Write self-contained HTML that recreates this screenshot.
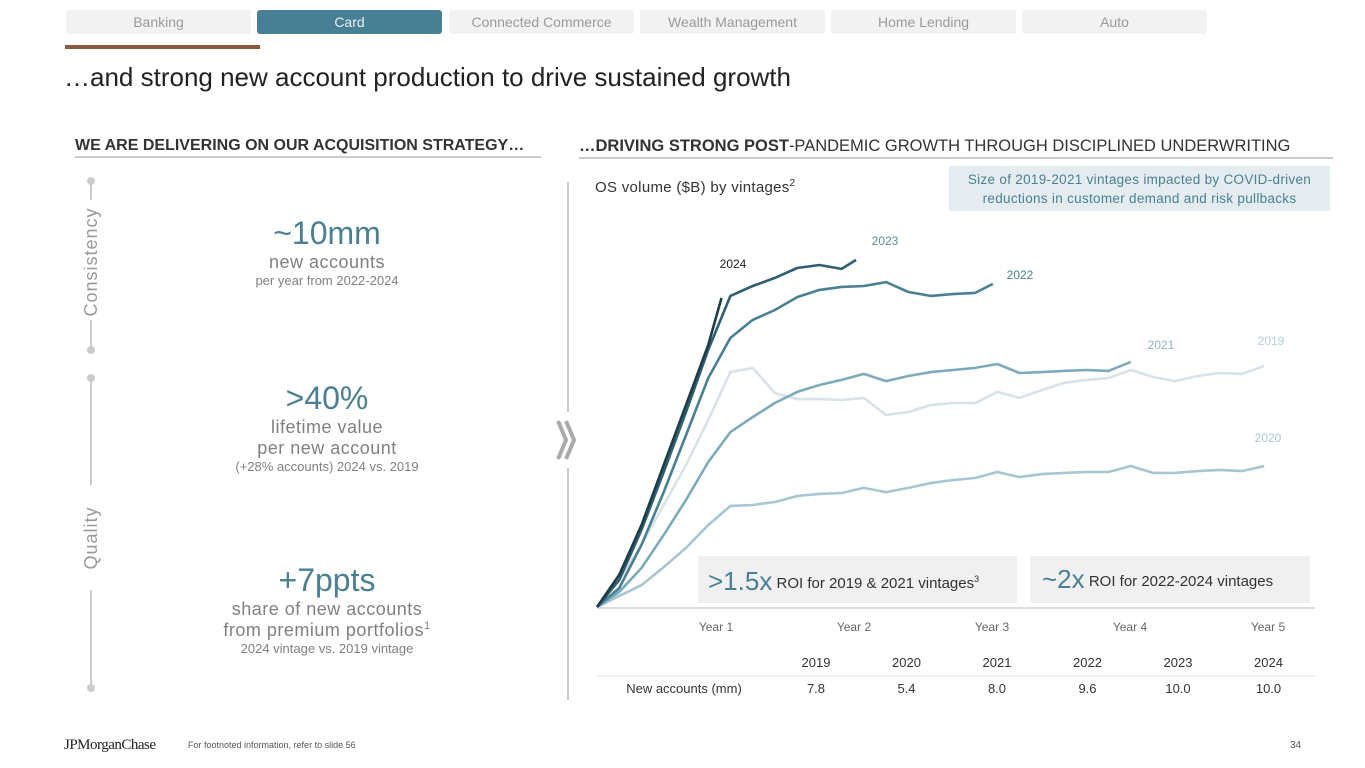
<!DOCTYPE html>
<html><head><meta charset="utf-8"><style>
body{margin:0;width:1365px;height:768px;background:#fff;font-family:"Liberation Sans",sans-serif;position:relative;overflow:hidden;color:#333}
.a{position:absolute}
.tab{position:absolute;top:10px;height:24px;width:185px;background:#f2f2f2;border-radius:3px;color:#9a9a9a;font-size:14px;text-align:center;line-height:24px}
.c{text-align:center;color:#777}
.big{color:#4a7f94;font-size:32px}
.mid{color:#808080;font-size:18px;letter-spacing:.5px}
.sm{color:#808080;font-size:13px}
</style></head><body>
<div class="tab" style="left:66px">Banking</div>
<div class="tab" style="left:257px;background:#477f94;color:#e8f0f3">Card</div>
<div class="tab" style="left:449px">Connected Commerce</div>
<div class="tab" style="left:640px">Wealth Management</div>
<div class="tab" style="left:831px">Home Lending</div>
<div class="tab" style="left:1022px">Auto</div>
<div class="a" style="left:65px;top:45px;width:195px;height:4px;background:#8c5a40"></div>
<div class="a" style="left:64px;top:62px;font-size:26px;color:#222">…and strong new account production to drive sustained growth</div>
<div class="a" style="left:75px;top:137px;font-size:16px;font-weight:bold;color:#333;width:466px;border-bottom:2px solid #ccc;padding-bottom:1px;white-space:nowrap">WE ARE DELIVERING ON OUR ACQUISITION STRATEGY…</div>
<div class="a" style="left:579px;top:137px;font-size:16.5px;color:#333;width:754px;border-bottom:2px solid #ccc;padding-bottom:1px;white-space:nowrap"><b>…DRIVING STRONG POST</b>-PANDEMIC GROWTH THROUGH DISCIPLINED UNDERWRITING</div>

<svg class="a" style="left:0;top:0" width="1365" height="768">
<line x1="91" y1="181" x2="91" y2="350" stroke="#ccc" stroke-width="2"/>
<line x1="91" y1="378" x2="91" y2="688" stroke="#ccc" stroke-width="2"/>
<rect x="84" y="200" width="16" height="120" fill="#fff"/>
<rect x="84" y="485" width="16" height="105" fill="#fff"/>
<circle cx="91" cy="181" r="4" fill="#ccc"/><circle cx="91" cy="350" r="4" fill="#ccc"/>
<circle cx="91" cy="378" r="4" fill="#ccc"/><circle cx="91" cy="688" r="4" fill="#ccc"/>
<text transform="translate(97,262) rotate(-90)" text-anchor="middle" font-size="18" fill="#999" letter-spacing="1">Consistency</text>
<text transform="translate(97,538) rotate(-90)" text-anchor="middle" font-size="18" fill="#999" letter-spacing="1">Quality</text>
<line x1="568" y1="182" x2="568" y2="700" stroke="#ccc" stroke-width="2"/>
<rect x="556" y="412" width="24" height="56" fill="#fff"/>
<path d="M558 421 L566 440 L558 459 M566 421 L574 440 L566 459" stroke="#aaa" stroke-width="4" fill="none"/>
</svg>
<div class="a c" style="left:177px;width:300px;top:215px"><div class="big">~10mm</div><div class="mid">new accounts</div><div class="sm">per year from 2022-2024</div></div>
<div class="a c" style="left:177px;width:300px;top:380px"><div class="big">&gt;40%</div><div class="mid">lifetime value<br>per new account</div><div class="sm">(+28% accounts) 2024 vs. 2019</div></div>
<div class="a c" style="left:177px;width:300px;top:562px"><div class="big">+7ppts</div><div class="mid">share of new accounts<br>from premium portfolios<sup style="font-size:11px">1</sup></div><div class="sm">2024 vintage vs. 2019 vintage</div></div>

<div class="a" style="left:595px;top:178px;font-size:15px;color:#333;letter-spacing:.3px">OS volume ($B) by vintages<sup style="font-size:10px">2</sup></div>
<div class="a" style="left:949px;top:166px;width:381px;height:45px;background:#e4ecf0;color:#4a7f94;font-size:13.5px;text-align:center;line-height:19px;padding-top:4px;box-sizing:border-box;letter-spacing:.3px">Size of 2019-2021 vintages impacted by COVID-driven<br>reductions in customer demand and risk pullbacks</div>

<svg id="chart" class="a" style="left:0;top:0" width="1365" height="768"></svg>

<div class="a" style="left:698px;top:556px;width:319px;height:47px;background:#f0f0f0;line-height:47px;font-size:15px;color:#333;white-space:nowrap;padding-left:10px;box-sizing:border-box"><span style="font-size:26px;color:#4a7f94;vertical-align:-2px">&gt;1.5x</span> ROI for 2019 &amp; 2021 vintages<sup style="font-size:9px">3</sup></div>
<div class="a" style="left:1030px;top:556px;width:280px;height:47px;background:#f0f0f0;line-height:47px;font-size:15px;color:#333;white-space:nowrap;padding-left:12px;box-sizing:border-box"><span style="font-size:26px;color:#4a7f94;vertical-align:-2px">~2x</span> ROI for 2022-2024 vintages</div>

<div class="a" style="left:64px;top:737px;font-family:'Liberation Serif',serif;font-size:15px;color:#222;letter-spacing:-.5px">JPMorganChase</div>
<div class="a" style="left:188px;top:740px;font-size:9px;color:#555">For footnoted information, refer to slide 56</div>
<div class="a" style="left:1290px;top:740px;font-size:10px;color:#555">34</div>

<script>
const yearLabels=["Year 1","Year 2","Year 3","Year 4","Year 5"];
const vintages=["2019","2020","2021","2022","2023","2024"];
const newAccounts=["7.8","5.4","8.0","9.6","10.0","10.0"];
const m2019=[0,2,4,6,8,10,12,14,16,18,20,22,24,26,28,30,32,34,36,38,40,42,44,46,48,50,52,54,56,58,60];
const v2019=[0,9,20.7,34,47.3,62.3,78.3,79.7,71.3,69.3,69.3,69,69.7,64,65,67.3,68,68,71.7,69.7,72.3,74.7,75.7,76.3,79,76.7,75.3,77,78,77.7,80.3];
const m2020=m2019;
const v2020=[0,3.7,7.3,13.3,19.7,27.3,33.7,34,35,37,37.7,38,39.7,38.3,39.7,41.3,42.3,43,45,43.3,44.3,44.7,45,45,47,44.7,44.7,45.3,45.7,45.3,47];
const m2021=[0,2,4,6,8,10,12,14,16,18,20,22,24,26,28,30,32,34,36,38,40,42,44,46,48];
const v2021=[0,5,13,24,35.7,48.3,58.3,63.3,68,71.7,74,75.7,77.7,75.3,77,78.3,79,79.7,81,78,78.3,78.7,79,78.7,81.7];
const m2022=[0,2,4,6,8,10,12,14,16,18,20,22,24,26,28,30,32,34,35.6];
const v2022=[0,6.3,20.7,38.3,57.3,76.3,89.7,95.7,99,103.3,105.7,106.7,107,108.3,105,103.7,104.3,104.7,107.7];
const m2023=[0,2,4,6,8,10,12,14,16,18,20,22,23.3];
const v2023=[0,9,25.7,45,65,85.7,103.7,107,109.7,113,114,112.7,115.7];
const m2024=[0,2,4,6,8,10,11.2];
const v2024=[0,10.7,27.3,47.3,67.3,87.3,103];
const NS="http://www.w3.org/2000/svg";
const svg=document.getElementById('chart');
const xS=m=>597+m*11.12, yS=v=>607-v*3;
function mk(t,a){const e=document.createElementNS(NS,t);for(const k in a)e.setAttribute(k,a[k]);svg.appendChild(e);return e;}
const ax=mk('line',{x1:597,y1:608,x2:1315,y2:608,stroke:'#ddd','stroke-width':2});


const series=[[m2019,v2019,'#d7e3e9','2019',1271,345],[m2020,v2020,'#a8c6d2','2020',1268,442],[m2021,v2021,'#7eaabb','2021',1161,349],[m2022,v2022,'#4b7f93','2022',1020,279],[m2023,v2023,'#2f5f70','2023',885,245],[m2024,v2024,'#1f3d48','2024',733,268]];
const lblCol={'2019':'#b9cfd9','2020':'#a8c6d2','2021':'#8fb3c2','2022':'#4b7f93','2023':'#5b8a9c','2024':'#222'};
series.forEach(s=>{
 const d=s[0].map((m,i)=>(i?'L':'M')+xS(m).toFixed(1)+' '+yS(s[1][i]).toFixed(1)).join(' ');
 const p=mk('path',{d:d,fill:'none',stroke:s[2],'stroke-width':2.6,'stroke-linejoin':'round'});
 
 
 const t=mk('text',{x:s[4],y:s[5],'font-size':12,fill:lblCol[s[3]],'text-anchor':'middle'});t.textContent=s[3];
 
 
});
yearLabels.forEach((l,i)=>{const t=mk('text',{x:716+i*138,y:631,'font-size':12,fill:'#666','text-anchor':'middle'});t.textContent=l;
 
 });
vintages.forEach((v,i)=>{
 const x=816+i*90.5;
 const h=mk('text',{x:x,y:667,'font-size':13,fill:'#333','text-anchor':'middle'});h.textContent=v;
 
 
 const c=mk('text',{x:x,y:693,'font-size':13,fill:'#333','text-anchor':'middle'});c.textContent=newAccounts[i];
 
 
});
const rl=mk('line',{x1:597,y1:676,x2:1315,y2:676,stroke:'#e3e3e3','stroke-width':1});


const rt=mk('text',{x:684,y:693,'font-size':13,fill:'#333','text-anchor':'middle'});rt.textContent='New accounts (mm)';


</script>
</body></html>
